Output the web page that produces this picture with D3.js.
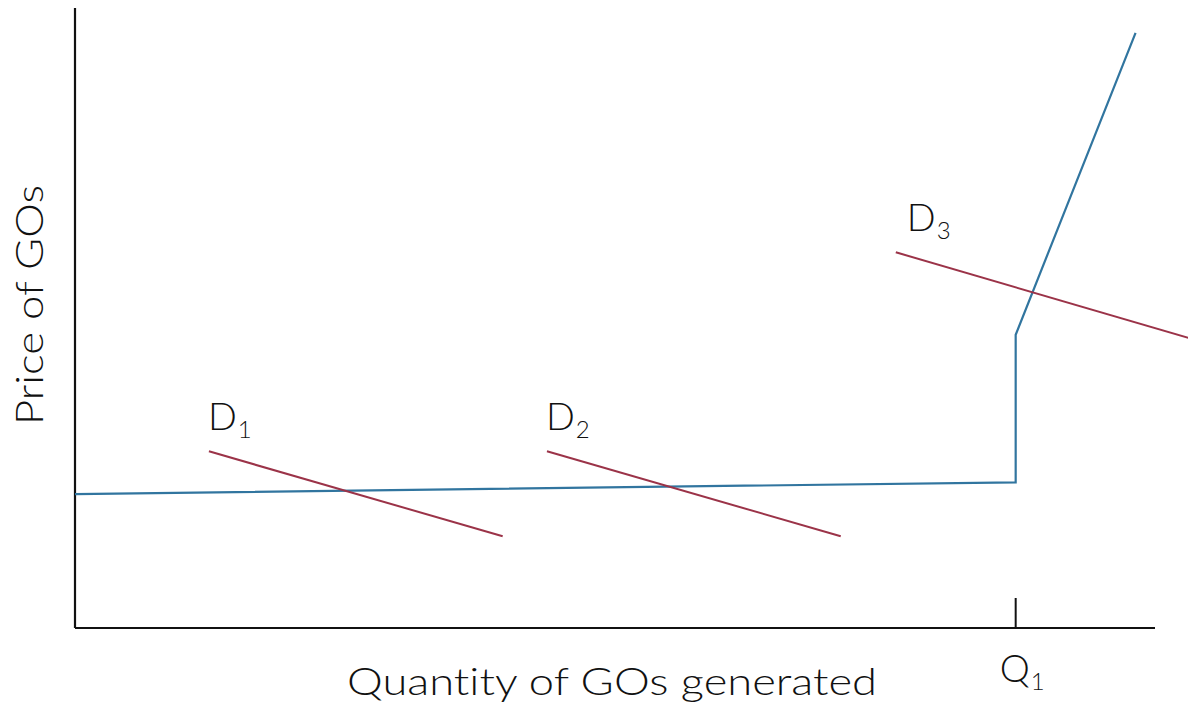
<!DOCTYPE html>
<html><head><meta charset="utf-8">
<script src="https://cdn.jsdelivr.net/npm/d3@7"></script>
<style>body{margin:0;background:#fff}svg{display:block}text{font-variant-ligatures:none;font-feature-settings:"liga" 0}</style>
</head><body>
<script>
// Data (abstract quantity 0..100, price 0..100)
const supplyQ = [0, 87.1, 87.1, 98.2];
const supplyP = [21.6, 23.5, 47.3, 96.0];
const demandNames = ["D1", "D2", "D3"];
const demandQ = [[12.4, 39.6], [43.7, 70.9], [76.0, 103.1]];
const demandP = [[28.5, 14.8], [28.5, 14.8], [60.6, 46.8]];
const tickQ = [87.1];
const tickLabels = ["Q1"];
const xTitle = "Quantity of GOs generated";
const yTitle = "Price of GOs";

const W = 1188, H = 704;
const font = "'Lato', 'DejaVu Sans', sans-serif";
const weight = 300;
const x = d3.scaleLinear().domain([0, 100]).range([75, 1155]);
const y = d3.scaleLinear().domain([0, 100]).range([628, 8]);

const svg = d3.select("body").append("svg").attr("width", W).attr("height", H);

// axes
svg.append("line").attr("x1", x(0)).attr("x2", x(0)).attr("y1", y(100)).attr("y2", y(0))
  .attr("stroke", "#111").attr("stroke-width", 2.2);
svg.append("line").attr("x1", x(0)).attr("x2", x(100)).attr("y1", y(0)).attr("y2", y(0))
  .attr("stroke", "#111").attr("stroke-width", 2.2);

// Q1 tick
tickQ.forEach((q, i) => {
  svg.append("line").attr("x1", x(q)).attr("x2", x(q)).attr("y1", y(0) - 30).attr("y2", y(0))
    .attr("stroke", "#111").attr("stroke-width", 2);
  const t = svg.append("text").attr("x", x(q) - 16).attr("y", 682)
    .attr("font-family", font).attr("font-weight", weight).attr("font-size", 38).attr("fill", "#111");
  t.append("tspan").text(tickLabels[i][0]);
  t.append("tspan").attr("font-size", 24).attr("dy", 8).attr("dx", 1).text(tickLabels[i].slice(1));
});

const line = d3.line().x(d => x(d[0])).y(d => y(d[1]));

// supply
svg.append("path").datum(supplyQ.map((q, i) => [q, supplyP[i]]))
  .attr("d", line).attr("fill", "none").attr("stroke", "#31759f").attr("stroke-width", 2.2)
  .attr("stroke-linejoin", "miter");

// demand
demandNames.forEach((n, i) => {
  const pts = demandQ[i].map((q, j) => [q, demandP[i][j]]);
  svg.append("path").datum(pts).attr("d", line).attr("fill", "none")
    .attr("stroke", "#9b3348").attr("stroke-width", 2);
  const lx = x(pts[0][0]) + (i === 2 ? 11 : -1);
  const ly = y(pts[0][1]) - 21;
  const t = svg.append("text").attr("x", lx).attr("y", ly)
    .attr("font-family", font).attr("font-weight", weight).attr("font-size", 38).attr("fill", "#111");
  t.append("tspan").text(n[0]);
  t.append("tspan").attr("font-size", 24).attr("dy", 8).attr("dx", 1).text(n.slice(1));
});

// titles
svg.append("text").attr("x", 612).attr("y", 695).attr("text-anchor", "middle")
  .attr("font-family", font).attr("font-weight", weight).attr("font-size", 38).attr("fill", "#111")
  .attr("textLength", 530).attr("lengthAdjust", "spacingAndGlyphs").text(xTitle);
svg.append("text").attr("transform", "translate(43,305) rotate(-90)").attr("text-anchor", "middle")
  .attr("font-family", font).attr("font-weight", weight).attr("font-size", 38).attr("fill", "#111")
  .attr("textLength", 240).attr("lengthAdjust", "spacingAndGlyphs").text(yTitle);
</script>
</body></html>
